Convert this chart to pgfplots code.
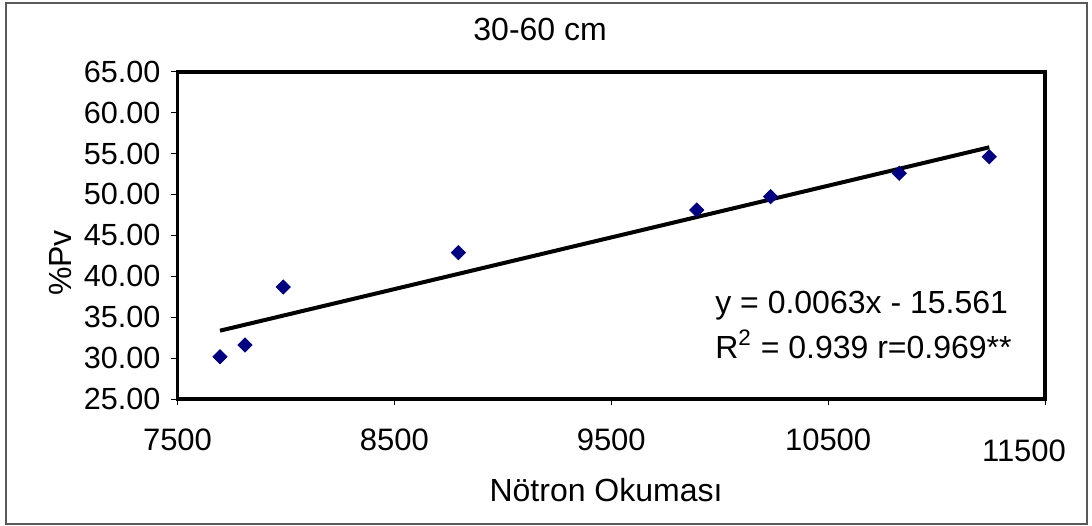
\documentclass[border=0pt]{standalone}
\usepackage{fontspec}
\setmainfont{Liberation Sans}
\usepackage{pgfplots}
\pgfplotsset{compat=1.18}
\definecolor{navy}{HTML}{000080}

\begin{document}
\fontsize{16bp}{19bp}\selectfont
\begin{tikzpicture}
% outer chart frame, picture is 1092x526 px at 0.5bp per px
\useasboundingbox (0,0) rectangle (546bp,263bp);
\draw[gray!70!black, line width=0.7bp] (3bp,1bp) rectangle (543.5bp,261.5bp);
\begin{axis}[
  at={(88.75bp,63.5bp)}, anchor=south west,
  scale only axis,
  width=433.75bp, height=163.65bp,
  xmin=7500, xmax=11500,
  ymin=25, ymax=65,
  xtick={7500,8500,...,10500},
  extra x ticks={11500},
  extra x tick style={xticklabel style={xshift=-10.5bp, yshift=-5.5bp}},
  ytick={25,30,...,65},
  scaled x ticks=false,
  tick align=outside,
  xtick pos=bottom, ytick pos=left,
  major tick length=3bp,
  major tick style={line width=0.5bp, black},
  axis line style={line width=1.8bp},
  /pgf/number format/assume math mode=true,
  xticklabel style={/pgf/number format/set thousands separator={},
                    font=\fontsize{15.5bp}{18bp}\selectfont, yshift=-6.5bp},
  yticklabel style={/pgf/number format/fixed, /pgf/number format/fixed zerofill,
                    /pgf/number format/precision=2, font=\fontsize{15.3bp}{18bp}\selectfont},
  xlabel={Nötron Okuması},
  ylabel={\%Pv},
  xlabel style={at={(axis description cs:0.494,-0.278)}, anchor=center},
  ylabel style={at={(axis description cs:-0.1354,0.4155)}, anchor=center, rotate=0},
  title={30-60 cm},
  title style={at={(axis description cs:0.418,1.091)}, anchor=center, yshift=0pt},
  clip=false,
]
\addplot[only marks, mark=square*, mark size=2.5bp,
         mark options={rotate=45, fill=navy, draw=navy}] coordinates {
  (7696,30.17) (7811,31.60) (7988,38.69) (8795,42.88)
  (9894,48.10) (10235,49.73) (10828,52.58) (11243,54.60)
};
% linear trend line as drawn in the reference
\addplot[black, line width=2bp] coordinates {
  (7696,33.35) (11243,55.76)
};
\node[anchor=base west, inner sep=0pt] at (axis cs:9978,35.51) {y = 0.0063x - 15.561};
\node[anchor=base west, inner sep=0pt] at (axis cs:9978,30.01) {R\textsuperscript{2} = 0.939 r=0.969**};
\end{axis}
\end{tikzpicture}
\end{document}
